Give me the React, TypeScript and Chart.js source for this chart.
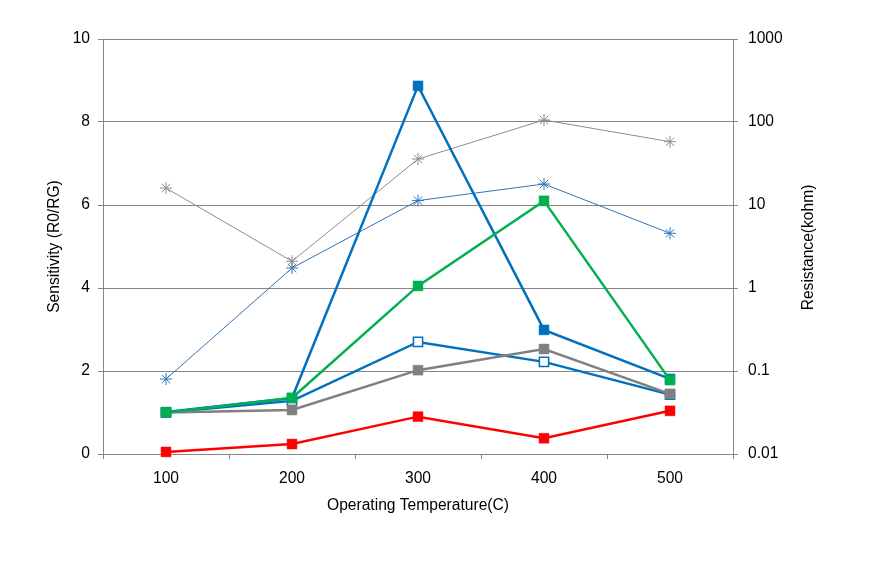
import React, { useEffect, useRef } from "react";
import { Chart, registerables } from "chart.js";

Chart.register(...registerables);

const categories = ["100", "200", "300", "400", "500"];
const sensDarkBlue = [1.01, 1.35, 8.87, 2.99, 1.81];
const sensGreen = [1.0, 1.35, 4.05, 6.1, 1.78];
const sensGray = [1.0, 1.06, 2.02, 2.53, 1.45];
const sensOpenBlue = [1.0, 1.28, 2.7, 2.22, 1.43];
const sensRed = [0.05, 0.24, 0.9, 0.38, 1.04];
const resGray = [16.0, 2.1, 35.8, 105.7, 57.9];
const resBlue = [0.08, 1.74, 11.3, 17.9, 4.56];
const leftTicks = [0, 2, 4, 6, 8, 10];
const rightTicks = [0.01, 0.1, 1, 10, 100, 1000];
const rightTitle = "Resistance(kohm)";

const FONT = "'Liberation Sans', Arial, sans-serif";
const FS = 15.6;
const GRID = "#868686";

const rightTitlePlugin = {
  id: "rightTitle",
  afterDraw(chart: any) {
    const { ctx, chartArea } = chart;
    ctx.save();
    ctx.fillStyle = "#000";
    ctx.font = `${FS}px ${FONT}`;
    ctx.textAlign = "center";
    ctx.textBaseline = "middle";
    ctx.translate(809, (chartArea.top + chartArea.bottom) / 2 + 1);
    ctx.rotate(-Math.PI / 2);
    ctx.fillText(rightTitle, 0, 0);
    ctx.restore();
  },
};

export default function App() {
  const ref = useRef<HTMLCanvasElement | null>(null);
  useEffect(() => {
    if (!ref.current) return;
    const sq = (label: string, data: number[], color: string, order: number, fill = true) => ({
      label,
      data,
      yAxisID: "y",
      borderColor: color,
      backgroundColor: fill ? color : "#ffffff",
      borderWidth: 2.5,
      pointStyle: "rect",
      pointRadius: fill ? 7 : 6.5,
      pointBorderWidth: fill ? 0.5 : 1.5,
      pointBackgroundColor: fill ? color : "#ffffff",
      pointBorderColor: color,
      tension: 0,
      clip: false,
      order,
    });
    const star = (label: string, data: number[], color: string, order: number) => ({
      label,
      data,
      yAxisID: "y1",
      borderColor: color,
      backgroundColor: color,
      borderWidth: 1,
      pointStyle: "star",
      pointRadius: 6,
      pointBorderWidth: 1,
      pointBorderColor: color,
      tension: 0,
      clip: false,
      order,
    });
    const chart = new Chart(ref.current, {
      type: "line",
      data: {
        labels: categories,
        datasets: [
          sq("Green", sensGreen, "#00B050", 0),
          sq("Blue", sensDarkBlue, "#0070C0", 1),
          sq("Gray", sensGray, "#808080", 2),
          sq("Open", sensOpenBlue, "#0070C0", 3, false),
          sq("Red", sensRed, "#FF0000", 4),
          star("Res gray", resGray, "#8C8C8C", 5),
          star("Res blue", resBlue, "#2E75B6", 6),
        ] as any,
      },
      options: {
        animation: false,
        responsive: false,
        maintainAspectRatio: false,
        layout: { padding: { top: 39, left: 0, right: 0, bottom: 0 } },
        plugins: { legend: { display: false }, tooltip: { enabled: false } },
        scales: {
          x: {
            type: "category",
            offset: true,
            grid: { offset: true, drawOnChartArea: false, drawTicks: true, tickLength: 5, color: GRID },
            border: { display: true, color: GRID, width: 1 },
            ticks: { color: "#000", font: { family: FONT, size: FS }, padding: 10 },
            title: {
              display: true,
              text: "Operating Temperature(C)",
              color: "#000",
              font: { family: FONT, size: FS },
              padding: { top: 0, bottom: 52.5 },
            },
            afterFit: (s: any) => { s.height = 114; },
          },
          y: {
            type: "linear",
            position: "left",
            min: 0,
            max: 10,
            afterBuildTicks: (s: any) => { s.ticks = leftTicks.map((v) => ({ value: v })); },
            grid: { drawOnChartArea: true, drawTicks: true, tickLength: 5, color: GRID },
            border: { display: true, color: GRID, width: 1 },
            ticks: { color: "#000", font: { family: FONT, size: FS }, padding: 8 },
            title: {
              display: true,
              text: "Sensitivity (R0/RG)",
              color: "#000",
              font: { family: FONT, size: FS },
              padding: { top: 45, bottom: 0 },
            },
            afterFit: (s: any) => { s.width = 103; },
          },
          y1: {
            type: "logarithmic",
            position: "right",
            min: 0.01,
            max: 1000,
            afterBuildTicks: (s: any) => { s.ticks = rightTicks.map((v) => ({ value: v })); },
            grid: { drawOnChartArea: false, drawTicks: true, tickLength: 5, color: GRID },
            border: { display: true, color: GRID, width: 1 },
            ticks: {
              color: "#000",
              font: { family: FONT, size: FS },
              padding: 10,
              callback: (v: any) => String(v),
            },
            title: { display: false },
            afterFit: (s: any) => { s.width = 138; },
          },
        },
      } as any,
      plugins: [rightTitlePlugin],
    });
    return () => chart.destroy();
  }, []);
  return (
    <div style={{ position: "fixed", left: 0, top: 0, width: 871, height: 568, background: "#fff" }}>
      <canvas ref={ref} width={871} height={568} style={{ width: 871, height: 568 }} />
    </div>
  );
}
